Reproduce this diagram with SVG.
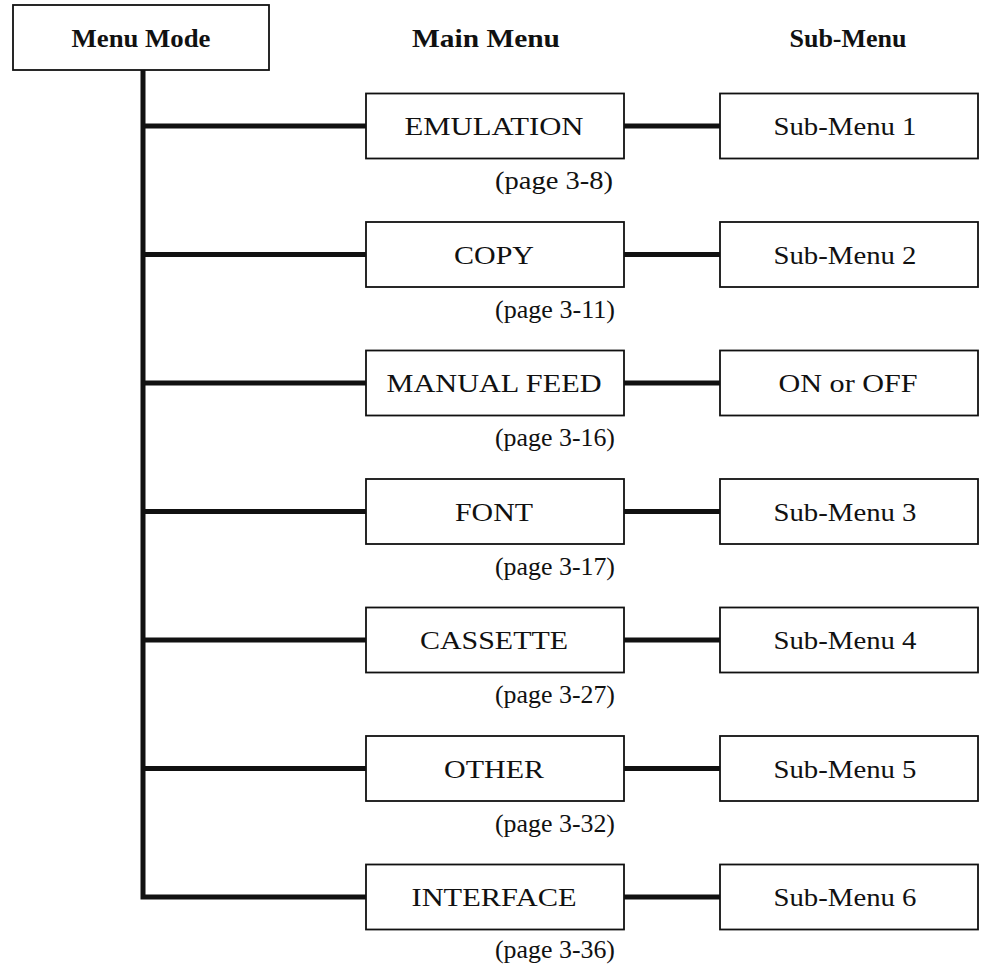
<svg xmlns="http://www.w3.org/2000/svg" width="984" height="968" viewBox="0 0 984 968">
<style>
.box{fill:#fff;stroke:#111;stroke-width:1.8}
.t{font-family:"Liberation Serif","Times New Roman",serif;font-size:26px;fill:#111;text-anchor:middle}
.h{font-family:"Liberation Serif","Times New Roman",serif;font-size:26px;font-weight:bold;fill:#111;text-anchor:middle}
.p{font-family:"Liberation Serif","Times New Roman",serif;font-size:26px;fill:#111}
.c{fill:none;stroke:#111;stroke-width:5}
</style>
<rect width="984" height="968" fill="#fff"/>
<g id="connectors">
<path class="c" d="M143 70 V897 H366"/>
<path class="c" d="M143 126 H366 M143 254.5 H366 M143 383 H366 M143 511.5 H366 M143 640 H366 M143 768.5 H366"/>
<path class="c" d="M624 126 H720 M624 254.5 H720 M624 383 H720 M624 511.5 H720 M624 640 H720 M624 768.5 H720 M624 897 H720"/>
</g>
<g id="menu-mode">
<rect class="box" x="13" y="5" width="256" height="65"/>
<text class="h" x="141" y="47" textLength="139" lengthAdjust="spacingAndGlyphs">Menu Mode</text>
</g>
<g id="header-main"><text class="h" x="486" y="47" textLength="148" lengthAdjust="spacingAndGlyphs">Main Menu</text></g>
<g id="header-sub"><text class="h" x="848" y="47" textLength="117" lengthAdjust="spacingAndGlyphs">Sub-Menu</text></g>

<g id="emulation">
<rect class="box" x="366" y="93.5" width="258" height="65"/>
<text class="t" x="494" y="135" textLength="179" lengthAdjust="spacingAndGlyphs">EMULATION</text>
<text class="p" x="495" y="189" textLength="118" lengthAdjust="spacingAndGlyphs">(page 3-8)</text>
</g>
<g id="sub1">
<rect class="box" x="720" y="93.5" width="258" height="65"/>
<text class="t" x="845" y="135" textLength="143" lengthAdjust="spacingAndGlyphs">Sub-Menu 1</text>
</g>

<g id="copy">
<rect class="box" x="366" y="222" width="258" height="65"/>
<text class="t" x="494" y="263.5" textLength="80" lengthAdjust="spacingAndGlyphs">COPY</text>
<text class="p" x="495" y="317.5" textLength="120" lengthAdjust="spacingAndGlyphs">(page 3-11)</text>
</g>
<g id="sub2">
<rect class="box" x="720" y="222" width="258" height="65"/>
<text class="t" x="845" y="263.5" textLength="143" lengthAdjust="spacingAndGlyphs">Sub-Menu 2</text>
</g>

<g id="manual-feed">
<rect class="box" x="366" y="350.5" width="258" height="65"/>
<text class="t" x="494" y="392" textLength="215" lengthAdjust="spacingAndGlyphs">MANUAL FEED</text>
<text class="p" x="495" y="446" textLength="120" lengthAdjust="spacingAndGlyphs">(page 3-16)</text>
</g>
<g id="on-off">
<rect class="box" x="720" y="350.5" width="258" height="65"/>
<text class="t" x="848" y="392" textLength="139" lengthAdjust="spacingAndGlyphs">ON or OFF</text>
</g>

<g id="font">
<rect class="box" x="366" y="479" width="258" height="65"/>
<text class="t" x="494" y="520.5" textLength="78" lengthAdjust="spacingAndGlyphs">FONT</text>
<text class="p" x="495" y="574.5" textLength="120" lengthAdjust="spacingAndGlyphs">(page 3-17)</text>
</g>
<g id="sub3">
<rect class="box" x="720" y="479" width="258" height="65"/>
<text class="t" x="845" y="520.5" textLength="143" lengthAdjust="spacingAndGlyphs">Sub-Menu 3</text>
</g>

<g id="cassette">
<rect class="box" x="366" y="607.5" width="258" height="65"/>
<text class="t" x="494" y="649" textLength="148" lengthAdjust="spacingAndGlyphs">CASSETTE</text>
<text class="p" x="495" y="703" textLength="120" lengthAdjust="spacingAndGlyphs">(page 3-27)</text>
</g>
<g id="sub4">
<rect class="box" x="720" y="607.5" width="258" height="65"/>
<text class="t" x="845" y="649" textLength="143" lengthAdjust="spacingAndGlyphs">Sub-Menu 4</text>
</g>

<g id="other">
<rect class="box" x="366" y="736" width="258" height="65"/>
<text class="t" x="494" y="777.5" textLength="100" lengthAdjust="spacingAndGlyphs">OTHER</text>
<text class="p" x="495" y="831.5" textLength="120" lengthAdjust="spacingAndGlyphs">(page 3-32)</text>
</g>
<g id="sub5">
<rect class="box" x="720" y="736" width="258" height="65"/>
<text class="t" x="845" y="777.5" textLength="143" lengthAdjust="spacingAndGlyphs">Sub-Menu 5</text>
</g>

<g id="interface">
<rect class="box" x="366" y="864.5" width="258" height="65"/>
<text class="t" x="494" y="906" textLength="165" lengthAdjust="spacingAndGlyphs">INTERFACE</text>
<text class="p" x="495" y="958" textLength="120" lengthAdjust="spacingAndGlyphs">(page 3-36)</text>
</g>
<g id="sub6">
<rect class="box" x="720" y="864.5" width="258" height="65"/>
<text class="t" x="845" y="906" textLength="143" lengthAdjust="spacingAndGlyphs">Sub-Menu 6</text>
</g>
</svg>
